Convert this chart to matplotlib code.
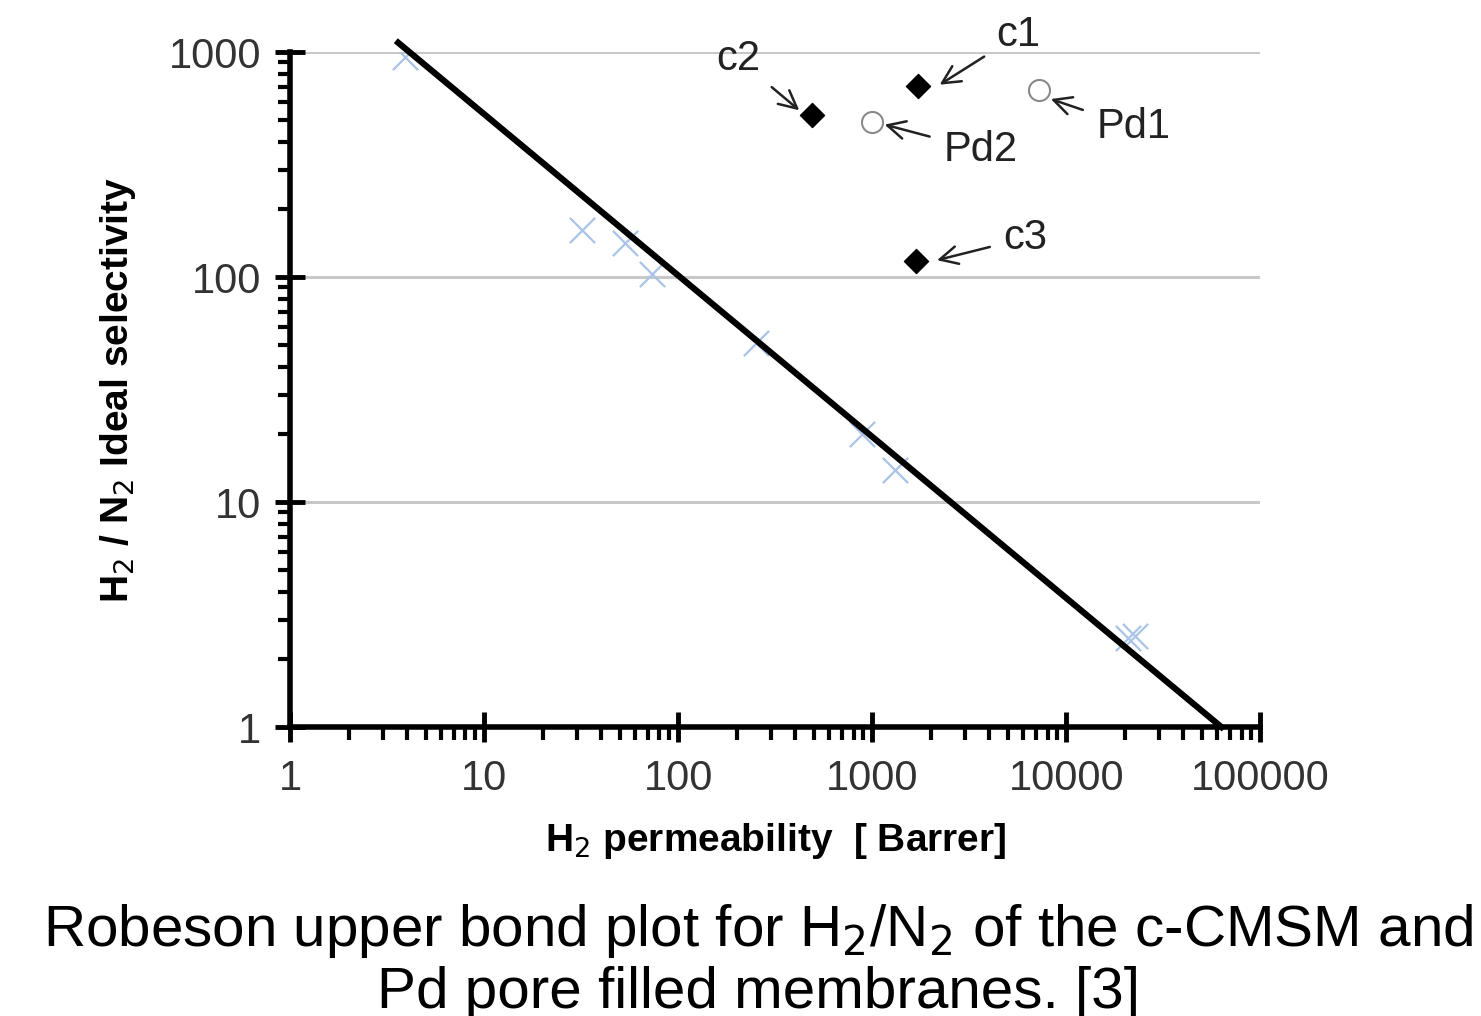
import numpy as np
import matplotlib.pyplot as plt
from matplotlib.ticker import LogLocator, NullFormatter, FixedFormatter, FixedLocator

plt.rcParams['font.family'] = ['Liberation Sans', 'DejaVu Sans']

# Upper bound line (endpoints)
bound_x = [3.6, 63000]
bound_y = [1100, 1]

# Polymer data (light blue crosses)
poly_x = [3.9, 32, 53, 73, 250, 890, 1310, 20900, 22700]
poly_y = [950, 162, 142, 103, 51, 20, 13.9, 2.5, 2.55]

# c-CMSM membranes
c_names = ['c1', 'c2', 'c3']
c_x = [1730, 490, 1670]
c_y = [705, 525, 118]

# Pd pore filled membranes
pd_names = ['Pd1', 'Pd2']
pd_x = [7200, 1000]
pd_y = [678, 489]

fig = plt.figure(figsize=(14.81, 10.16), dpi=100)
ax = fig.add_axes([0.196, 0.2844, 0.655, 0.6644])

ax.set_xscale('log')
ax.set_yscale('log')
ax.set_xlim(1, 100000)
ax.set_ylim(1, 1000)

# линии сетки
for g in [1, 10, 100, 1000]:
    ax.axhline(g, color='#c8c8c8', lw=2.2, zorder=0)

ax.plot(bound_x, bound_y, color='black', lw=4.5, clip_on=False, zorder=3)
ax.scatter(poly_x, poly_y, marker='x', s=330, color='#a9c4e8', linewidths=1.6, zorder=2)
ax.scatter(c_x, c_y, marker='D', s=150, color='black', zorder=4)
ax.scatter(pd_x, pd_y, marker='o', s=230, facecolors='white', edgecolors='#8a8a8a', linewidths=1.5, zorder=4)

# подписи со стрелками
ann = dict(arrowprops=dict(arrowstyle='->', color='#222222', lw=1.8, mutation_scale=32, shrinkA=8),
           fontsize=30, color='#222222', ha='center', va='center', annotation_clip=False)
ax.annotate('c1', xy=(c_x[0] * 1.25, c_y[0] * 1.0), xytext=(5660, 1190), **ann)
ax.annotate('c2', xy=(c_x[1] * 0.88, c_y[1] * 1.03), xytext=(204, 930), **ann)
ax.annotate('c3', xy=(c_x[2] * 1.25, c_y[2] * 1.0), xytext=(6150, 149), **ann)
ax.annotate('Pd1', xy=(pd_x[0] * 1.12, pd_y[0] * 0.92), xytext=(22100, 464), **ann)
ax.annotate('Pd2', xy=(pd_x[1] * 1.12, pd_y[1] * 0.98), xytext=(3600, 367), **ann)

# оси и деления
for s in ['top', 'right']:
    ax.spines[s].set_visible(False)
ax.spines['left'].set_linewidth(4)
ax.spines['bottom'].set_linewidth(4)

ax.xaxis.set_major_locator(FixedLocator([1, 10, 100, 1000, 10000, 100000]))
ax.xaxis.set_major_formatter(FixedFormatter(['1', '10', '100', '1000', '10000', '100000']))
ax.yaxis.set_major_locator(FixedLocator([1, 10, 100, 1000]))
ax.yaxis.set_major_formatter(FixedFormatter(['1', '10', '100', '1000']))
ax.xaxis.set_minor_locator(LogLocator(base=10, subs=np.arange(2, 10), numticks=20))
ax.yaxis.set_minor_locator(LogLocator(base=10, subs=np.arange(2, 10), numticks=20))
ax.xaxis.set_minor_formatter(NullFormatter())
ax.yaxis.set_minor_formatter(NullFormatter())

ax.tick_params(which='major', direction='inout', length=22, width=3.5, labelsize=30,
               labelcolor='#333333')
ax.tick_params(which='minor', direction='out', length=9, width=3)
ax.tick_params(axis='x', which='major', pad=12)
ax.tick_params(axis='y', which='major', pad=10)

ax.set_xlabel('H$_2$ permeability  [ Barrer]', fontsize=28, fontweight='bold', labelpad=16)
ax.set_ylabel('H$_2$ / N$_2$ Ideal selectivity', fontsize=28, fontweight='bold', labelpad=22)

fig.text(0.512, 0.054, 'Robeson upper bond plot for H$_2$/N$_2$ of the c-CMSM and\nPd pore filled membranes. [3]',
         ha='center', va='center', fontsize=42, linespacing=1.15)

plt.savefig('out.png', dpi=100)
